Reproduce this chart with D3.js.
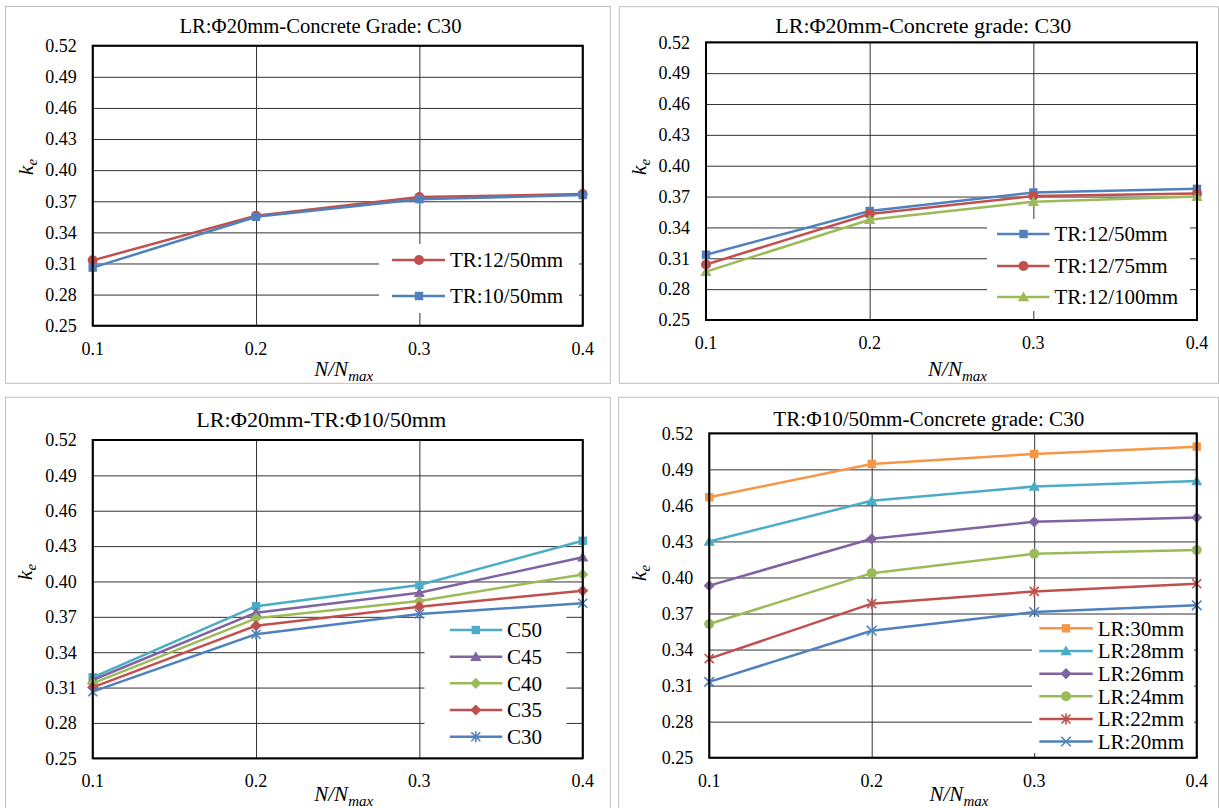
<!DOCTYPE html>
<html>
<head>
<meta charset="utf-8">
<script src="https://cdn.jsdelivr.net/npm/d3@7"></script>
<style>
  html, body { margin: 0; padding: 0; background: #fff; }
  svg text { font-family: "Liberation Serif", "DejaVu Serif", serif; }
</style>
</head>
<body>
<div id="chart"></div>
<script>
// shared axis values
const xTicks = [0.1, 0.2, 0.3, 0.4]
const yTicks = [0.25, 0.28, 0.31, 0.34, 0.37, 0.40, 0.43, 0.46, 0.49, 0.52]

// panel 1: LR:Φ20mm-Concrete Grade: C30
const p1Title = 'LR:Φ20mm-Concrete Grade: C30'
const p1Names = ['TR:12/50mm', 'TR:10/50mm']
const p1Values = [
  [0.313, 0.356, 0.374, 0.377],
  [0.306, 0.355, 0.372, 0.376],
]

// panel 2: LR:Φ20mm-Concrete grade: C30
const p2Title = 'LR:Φ20mm-Concrete grade: C30'
const p2Names = ['TR:12/50mm', 'TR:12/75mm', 'TR:12/100mm']
const p2Values = [
  [0.3135, 0.356, 0.374, 0.3775],
  [0.304, 0.353, 0.3705, 0.373],
  [0.297, 0.3475, 0.365, 0.370],
]

// panel 3: LR:Φ20mm-TR:Φ10/50mm
const p3Title = 'LR:Φ20mm-TR:Φ10/50mm'
const p3Names = ['C50', 'C45', 'C40', 'C35', 'C30']
const p3Values = [
  [0.3187, 0.379, 0.397, 0.4345],
  [0.3164, 0.3735, 0.3905, 0.4205],
  [0.3136, 0.3687, 0.3834, 0.406],
  [0.3102, 0.3625, 0.3786, 0.3922],
  [0.3065, 0.3552, 0.3724, 0.3815],
]

// panel 4: TR:Φ10/50mm-Concrete grade: C30
const p4Title = 'TR:Φ10/50mm-Concrete grade: C30'
const p4Names = ['LR:30mm', 'LR:28mm', 'LR:26mm', 'LR:24mm', 'LR:22mm', 'LR:20mm']
const p4Values = [
  [0.4668, 0.4945, 0.5028, 0.5089],
  [0.430, 0.4638, 0.4757, 0.4804],
  [0.3932, 0.4322, 0.4463, 0.4499],
  [0.3613, 0.4036, 0.4197, 0.4228],
  [0.3325, 0.3782, 0.3884, 0.3948],
  [0.3131, 0.3557, 0.3712, 0.3768],
]

const FONT = '"Liberation Serif", "DejaVu Serif", serif'

const C = {
  blue: '#4F81BD', red: '#C0504D', green: '#9BBB59',
  purple: '#8064A2', cyan: '#4BACC6', orange: '#F79646',
}

const panels = [
  {
    title: p1Title, names: p1Names, values: p1Values,
    colors: [C.red, C.blue], markers: ['circle', 'square'],
    frame: {x0: 5.5, y0: 6.5, x1: 610.3, y1: 383.3},
    plot: {l: 92.7, r: 582.7, t: 45.7, b: 325.7},
    titleX: 320.5, titleY: 26, titleW: 282, yTitle: [26, 167], xTitleY: 369,
    legend: {x0: 379, x1: 579, y0: 244, y1: 313, rows: [260, 296], lx: [392, 445], mx: 419, tx: 450},
  },
  {
    title: p2Title, names: p2Names, values: p2Values,
    colors: [C.blue, C.red, C.green], markers: ['square', 'circle', 'triangle'],
    frame: {x0: 619.3, y0: 6.7, x1: 1218.5, y1: 383.3},
    plot: {l: 706, r: 1197, t: 42.3, b: 320},
    titleX: 923.3, titleY: 26, titleW: 296, yTitle: [639, 167], xTitleY: 369,
    legend: {x0: 987, x1: 1190, y0: 219, y1: 311, rows: [234, 266, 297], lx: [997, 1049.5], mx: 1023.5, tx: 1054.5},
  },
  {
    title: p3Title, names: p3Names, values: p3Values,
    colors: [C.cyan, C.purple, C.green, C.red, C.blue],
    markers: ['square', 'triangle', 'diamond', 'diamond', 'star'],
    frame: {x0: 5.5, y0: 397.3, x1: 610.3, y1: 812},
    plot: {l: 92.7, r: 582.7, t: 440, b: 758.3},
    titleX: 321.3, titleY: 419.5, titleW: 250, yTitle: [25, 572], xTitleY: 794,
    legend: {x0: 424.5, x1: 566.5, y0: 616, y1: 751, rows: [630, 656.7, 683.3, 710, 736.7], lx: [449.8, 502.3], mx: 475.8, tx: 506.9},
  },
  {
    title: p4Title, names: p4Names, values: p4Values,
    colors: [C.orange, C.cyan, C.purple, C.green, C.red, C.blue],
    markers: ['square', 'triangle', 'diamond', 'circle', 'star', 'x'],
    frame: {x0: 618.6, y0: 397.3, x1: 1218.5, y1: 812},
    plot: {l: 709.2, r: 1196.7, t: 433.3, b: 757.7},
    titleX: 928.8, titleY: 418.5, titleW: 311, yTitle: [639, 573], xTitleY: 794,
    legend: {x0: 1032, x1: 1194, y0: 617, y1: 753, rows: [628.3, 651, 673.7, 696.3, 719, 741.5], lx: [1039.3, 1092.7], mx: 1066, tx: 1097.7},
  },
]

const W = 1219
const H = 808

const svg = d3
  .select('#chart')
  .append('svg')
  .attr('width', W)
  .attr('height', H)
  .attr('font-family', FONT)
  .style('display', 'block')

svg.append('rect').attr('width', W).attr('height', H).attr('fill', '#fff')

// draw one marker centred at 0,0
const drawMarker = (g, type, color) => {
  switch (type) {
    case 'circle':
      g.append('circle').attr('r', 5).attr('fill', color)
      break
    case 'square':
      g.append('rect')
        .attr('x', -4.2).attr('y', -4.2)
        .attr('width', 8.4).attr('height', 8.4)
        .attr('fill', color)
      break
    case 'triangle':
      g.append('path').attr('d', 'M0,-5.5L5.6,4.3L-5.6,4.3Z').attr('fill', color)
      break
    case 'diamond':
      g.append('path').attr('d', 'M0,-5.6L5.6,0L0,5.6L-5.6,0Z').attr('fill', color)
      break
    case 'star':
      g.append('path')
        .attr('d', 'M-4.5,-4.5L4.5,4.5M-4.5,4.5L4.5,-4.5M0,-5.5L0,5.5')
        .attr('stroke', color).attr('stroke-width', 1.6).attr('fill', 'none')
      break
    case 'x':
    default:
      g.append('path')
        .attr('d', 'M-4.8,-4.8L4.8,4.8M-4.8,4.8L4.8,-4.8')
        .attr('stroke', color).attr('stroke-width', 1.6).attr('fill', 'none')
      break
  }
}

panels.forEach(p => {
  const {frame, plot, legend} = p

  // chart area frame
  svg.append('rect')
    .attr('x', frame.x0).attr('y', frame.y0)
    .attr('width', frame.x1 - frame.x0).attr('height', frame.y1 - frame.y0)
    .attr('fill', '#fff').attr('stroke', '#bfbfbf').attr('stroke-width', 1)

  const xScale = d3.scaleLinear().domain([0.1, 0.4]).range([plot.l, plot.r])
  const yScale = d3.scaleLinear().domain([0.25, 0.52]).range([plot.b, plot.t])

  // gridlines
  const grid = svg.append('g')
  grid.append('g')
    .attr('transform', `translate(0, ${plot.b})`)
    .call(d3.axisBottom(xScale).tickValues(xTicks).tickSize(-(plot.b - plot.t)).tickFormat(''))
    .call(g => g.select('.domain').remove())
  grid.append('g')
    .attr('transform', `translate(${plot.l}, 0)`)
    .call(d3.axisLeft(yScale).tickValues(yTicks).tickSize(-(plot.r - plot.l)).tickFormat(''))
    .call(g => g.select('.domain').remove())
  grid.selectAll('line').attr('stroke', '#333').attr('stroke-width', 1)

  // tick labels
  svg.append('g')
    .selectAll('text')
    .data(yTicks)
    .enter()
    .append('text')
    .attr('x', plot.l - 16)
    .attr('y', d => yScale(d))
    .attr('dy', '0.35em')
    .attr('text-anchor', 'end')
    .attr('font-family', FONT)
    .attr('font-size', 18)
    .attr('fill', '#000')
    .text(d => d3.format('.2f')(d))

  svg.append('g')
    .selectAll('text')
    .data(xTicks)
    .enter()
    .append('text')
    .attr('x', d => xScale(d))
    .attr('y', plot.b + 22.5)
    .attr('dy', '0.35em')
    .attr('text-anchor', 'middle')
    .attr('font-family', FONT)
    .attr('font-size', 18)
    .attr('fill', '#000')
    .text(d => d3.format('.1f')(d))

  // series
  const line = d3.line().x((d, i) => xScale(xTicks[i])).y(d => yScale(d))
  p.values.forEach((vals, si) => {
    const color = p.colors[si]
    svg.append('path')
      .datum(vals)
      .attr('d', line)
      .attr('fill', 'none')
      .attr('stroke', color)
      .attr('stroke-width', 2.5)
      .attr('stroke-linejoin', 'round')
    vals.forEach((v, i) => {
      const g = svg.append('g').attr('transform', `translate(${xScale(xTicks[i])}, ${yScale(v)})`)
      drawMarker(g, p.markers[si], color)
    })
  })

  // plot border
  svg.append('rect')
    .attr('x', plot.l).attr('y', plot.t)
    .attr('width', plot.r - plot.l).attr('height', plot.b - plot.t)
    .attr('fill', 'none').attr('stroke', '#000').attr('stroke-width', 2)

  // legend
  const lg = svg.append('g')
  lg.append('rect')
    .attr('x', legend.x0).attr('y', legend.y0)
    .attr('width', legend.x1 - legend.x0).attr('height', legend.y1 - legend.y0)
    .attr('fill', '#fff')
  p.names.forEach((name, si) => {
    const y = legend.rows[si]
    lg.append('line')
      .attr('x1', legend.lx[0]).attr('x2', legend.lx[1])
      .attr('y1', y).attr('y2', y)
      .attr('stroke', p.colors[si]).attr('stroke-width', 2.5)
    drawMarker(lg.append('g').attr('transform', `translate(${legend.mx}, ${y})`), p.markers[si], p.colors[si])
    lg.append('text')
      .attr('x', legend.tx).attr('y', y)
      .attr('dy', '0.35em')
      .attr('font-family', FONT)
      .attr('font-size', 21)
      .attr('fill', '#000')
      .text(name)
  })

  // titles
  svg.append('text')
    .attr('x', p.titleX).attr('y', p.titleY)
    .attr('dy', '0.35em')
    .attr('text-anchor', 'middle')
    .attr('font-family', FONT)
    .attr('font-size', 20)
    .attr('textLength', p.titleW)
    .attr('lengthAdjust', 'spacingAndGlyphs')
    .attr('fill', '#000')
    .text(p.title)

  const xt = svg.append('text')
    .attr('x', (plot.l + plot.r) / 2 + 6).attr('y', p.xTitleY)
    .attr('dy', '0.35em')
    .attr('text-anchor', 'middle')
    .attr('font-family', FONT)
    .attr('font-size', 21)
    .attr('font-style', 'italic')
    .attr('fill', '#000')
  xt.append('tspan').text('N/N')
  xt.append('tspan').attr('font-size', 15).attr('dy', 5).text('max')

  const yt = svg.append('text')
    .attr('transform', `translate(${p.yTitle[0] + 7}, ${p.yTitle[1]}) rotate(-90)`)
    .attr('text-anchor', 'middle')
    .attr('font-family', FONT)
    .attr('font-size', 22)
    .attr('font-style', 'italic')
    .attr('fill', '#000')
  yt.append('tspan').text('k')
  yt.append('tspan').attr('font-size', 15).attr('dy', 4).text('e')
})
</script>
</body>
</html>
